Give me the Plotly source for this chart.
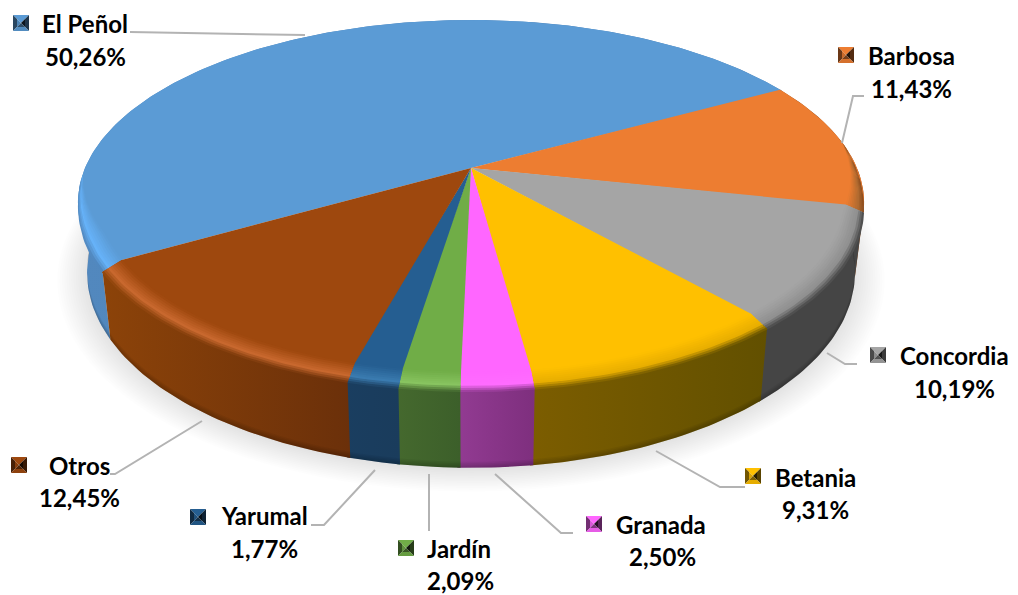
import math
import plotly.graph_objects as go

# ---- data ----
categories = ["El Peñol", "Barbosa", "Concordia", "Betania", "Granada", "Jardín", "Yarumal", "Otros"]
values = [50.26, 11.43, 10.19, 9.31, 2.50, 2.09, 1.77, 12.45]
value_labels = ["50,26%", "11,43%", "10,19%", "9,31%", "2,50%", "2,09%", "1,77%", "12,45%"]

# ---- styles ----
top_colors = ["#5B9BD5", "#ED7D31", "#A5A5A5", "#FFC000", "#FF66FF", "#70AD47", "#255E91", "#9E480E"]
wall_left = ["#5288BE", "#8A4A1C", "#454545", "#7C5D00", "#923B92", "#45692E", "#1A3E60", "#8C4309"]
wall_right = ["#4B7FB3", "#8A4A1C", "#454545", "#625000", "#7E2F7E", "#3C5F2A", "#1A3C5C", "#6B300A"]
bevel_light = ["#66B2F8", "#B06A30", "#909090", "#E8AE00", "#FF6CFF", "#88C460", "#3A7BB0", "#C8682E"]

# ---- projection of the tilted disc ----
START = 240.0
CX, K = 471.0, 0.189
TOP = dict(f=386.0, cy=168.0, g=176.0)
LOW = dict(f=377.0, cy=236.0, g=188.0)
R0, DY, PEAK = 0.95, 7.0, 0.65


def proj(a, r, p):
    t = math.radians(a)
    X, Y = r * math.sin(t), -r * math.cos(t)
    d = 1 - K * Y
    return CX + p["f"] * X / d, p["cy"] + p["g"] * Y / d


def arc(a0, a1, r, p, step=1.0):
    n = max(2, int(abs(a1 - a0) / step) + 1)
    return [proj(a0 + (a1 - a0) * i / (n - 1), r, p) for i in range(n)]


def hex_rgb(c):
    return tuple(int(c[i:i + 2], 16) for i in (1, 3, 5))


def mix(c0, c1, t):
    a, b = hex_rgb(c0), hex_rgb(c1)
    return tuple(a[i] + (b[i] - a[i]) * t for i in range(3))


def rgba(rgb, alpha=1.0):
    return f"rgba({rgb[0]:.0f},{rgb[1]:.0f},{rgb[2]:.0f},{alpha:.3f})"


fig = go.Figure()


def poly(pts, color=None, gradient=None):
    xs = [p[0] for p in pts] + [pts[0][0]]
    ys = [p[1] for p in pts] + [pts[0][1]]
    kw = dict(fillgradient=gradient) if gradient else dict(fillcolor=color)
    fig.add_trace(go.Scatter(x=xs, y=ys, mode="lines", fill="toself", line=dict(width=0),
                             hoverinfo="skip", showlegend=False, **kw))


# wedge angles from the values
total = sum(values)
edges = [START]
for v in values:
    edges.append(edges[-1] + v / total * 360)

# soft ground shadow
for i in range(14):
    r = 1.075 - 0.075 * i / 13
    poly(arc(0, 360, r, dict(f=LOW["f"], cy=LOW["cy"] + 2, g=LOW["g"]), 3), rgba((0, 0, 0), 0.0095))

# side walls; each runs slightly under the next so no seam shows
for i, name in enumerate(categories):
    a0, a1 = edges[i], edges[i + 1]
    lap = 0.4 if i < len(categories) - 1 else 0.0
    pts = arc(a0, a1 + lap, 1, TOP) + arc(a1 + lap, a0, 1, LOW)
    poly(pts, gradient=dict(type="horizontal",
                            colorscale=[[0, wall_left[i]], [1, wall_right[i]]]))

# darker foot of the wall
for j in range(4):
    n = 181
    lo = [proj(90 + 180 * q / (n - 1), 1, LOW) for q in range(n)]
    up = [(x, y - (4 - j) * 1.5) for x, y in lo]
    poly(lo + up[::-1], rgba((0, 0, 0), 0.05))

# top faces
for i, name in enumerate(categories):
    lap = 0.3 if i < len(categories) - 1 else 0.0
    poly([(CX, TOP["cy"])] + arc(edges[i], edges[i + 1] + lap, 1, TOP), top_colors[i])


# bevel between top face and wall
def taper(a):
    t = math.radians(a)
    Y = -math.cos(t)
    if math.sin(t) >= 0:
        return min(1.0, max(0.0, (Y + 0.15) / 0.4))
    return min(1.0, max(0.0, (Y - 0.03) / 0.35))


def bevel_pt(a, s):
    w = taper(a)
    r = 1 - (1 - R0) * (1 - s) * w
    x, y = proj(a, r, TOP)
    return x, y + DY * s * w


STRIPS = 10
for i, name in enumerate(categories):
    angs = []
    a = edges[i]
    while a < edges[i + 1]:
        if taper(a) > 0:
            angs.append(a)
        a += 1.0
    if taper(edges[i + 1]) > 0:
        angs.append(edges[i + 1])
    if len(angs) < 2:
        continue
    for j in range(STRIPS):
        s0, s1 = j / STRIPS, min(1.0, (j + 1) / STRIPS + 0.04)
        sm = (j + 0.5) / STRIPS
        pts = [bevel_pt(a, s0) for a in angs] + [bevel_pt(a, s1) for a in reversed(angs)]
        if sm < PEAK:
            poly(pts, rgba(mix(top_colors[i], bevel_light[i], sm / PEAK)))
        else:
            t = (sm - PEAK) / (1 - PEAK)
            poly(pts, gradient=dict(type="horizontal", colorscale=[
                [0, rgba(mix(bevel_light[i], wall_left[i], t))],
                [1, rgba(mix(bevel_light[i], wall_right[i], t))]]))

# ---- label layout (legend key box, name centre, value centre, leader line) ----
key_boxes = [(13, 15), (838, 47), (870, 347), (745, 468), (586, 516), (398, 540), (190, 509), (11, 457)]
name_pos = [(85, 23), (911, 55), (954, 355), (815, 477), (661, 524), (459, 548), (264, 515), (79, 465)]
value_pos = [(85, 56), (911, 88), (954, 388), (815, 509), (662, 556), (460, 580), (264, 548), (79, 497)]
leaders = [
    [(130, 32), (305, 35)],
    [(864, 96), (853, 96), (842, 143)],
    [(857, 364), (845, 364), (827, 353)],
    [(745, 487), (720, 487), (656, 451)],
    [(573, 533), (561, 533), (495, 474)],
    [(429, 531), (429, 474)],
    [(311, 525), (324, 525), (375, 470)],
    [(110, 474), (115, 474), (202, 421)],
]
KEY = 16
FONT = dict(family="Lato", size=24, color="#000000", weight=700)

shapes = []
for pts in leaders:
    path = "M" + " L".join(f"{x},{y}" for x, y in pts)
    shapes.append(dict(type="path", path=path, line=dict(color="#B3B3B3", width=2)))


def add_poly_shape(pts, col):
    path = "M" + " L".join(f"{x},{y}" for x, y in pts) + " Z"
    shapes.append(dict(type="path", path=path, fillcolor=rgba(col), line=dict(width=0)))


for i, (bx, by) in enumerate(key_boxes):
    c = top_colors[i]
    m = KEY / 2
    q = KEY / 4
    mx, my = bx + m, by + m
    # top face
    add_poly_shape([(bx, by), (bx + KEY, by), (mx, my)], mix(c, "#000000", 0.0))
    # left: dark outer, lit inner
    add_poly_shape([(bx, by), (bx, by + KEY), (bx + q, by + KEY - q), (bx + q, by + q)], mix(c, "#000000", 0.55))
    add_poly_shape([(bx + q, by + q), (bx + q, by + KEY - q), (mx, my)], mix(c, "#000000", 0.15))
    # right: dark
    add_poly_shape([(bx + KEY, by), (bx + KEY, by + KEY), (bx + KEY - q, by + KEY - q), (bx + KEY - q, by + q)], mix(c, "#000000", 0.65))
    add_poly_shape([(bx + KEY - q, by + q), (bx + KEY - q, by + KEY - q), (mx, my)], mix(c, "#000000", 0.85))
    # bottom: lit outer, dark inner
    add_poly_shape([(bx, by + KEY), (bx + KEY, by + KEY), (bx + KEY - q, by + KEY - q), (bx + q, by + KEY - q)], mix(c, "#000000", 0.10))
    add_poly_shape([(bx + q, by + KEY - q), (bx + KEY - q, by + KEY - q), (mx, my)], mix(c, "#000000", 0.50))

annotations = []
for name, label, np_, vp in zip(categories, value_labels, name_pos, value_pos):
    annotations.append(dict(x=np_[0], y=np_[1], text=name, showarrow=False, font=FONT,
                            xanchor="center", yanchor="middle"))
    annotations.append(dict(x=vp[0], y=vp[1], text=label, showarrow=False, font=FONT,
                            xanchor="center", yanchor="middle"))

fig.update_layout(
    width=1018, height=595, margin=dict(l=0, r=0, t=0, b=0),
    paper_bgcolor="white", plot_bgcolor="white", showlegend=False,
    xaxis=dict(range=[0, 1018], visible=False, fixedrange=True),
    yaxis=dict(range=[595, 0], visible=False, fixedrange=True),
    shapes=shapes, annotations=annotations,
)

fig.write_html("out.html", config=dict(displayModeBar=False),
               post_script="document.body.style.margin='0';document.documentElement.style.overflow='hidden';")
